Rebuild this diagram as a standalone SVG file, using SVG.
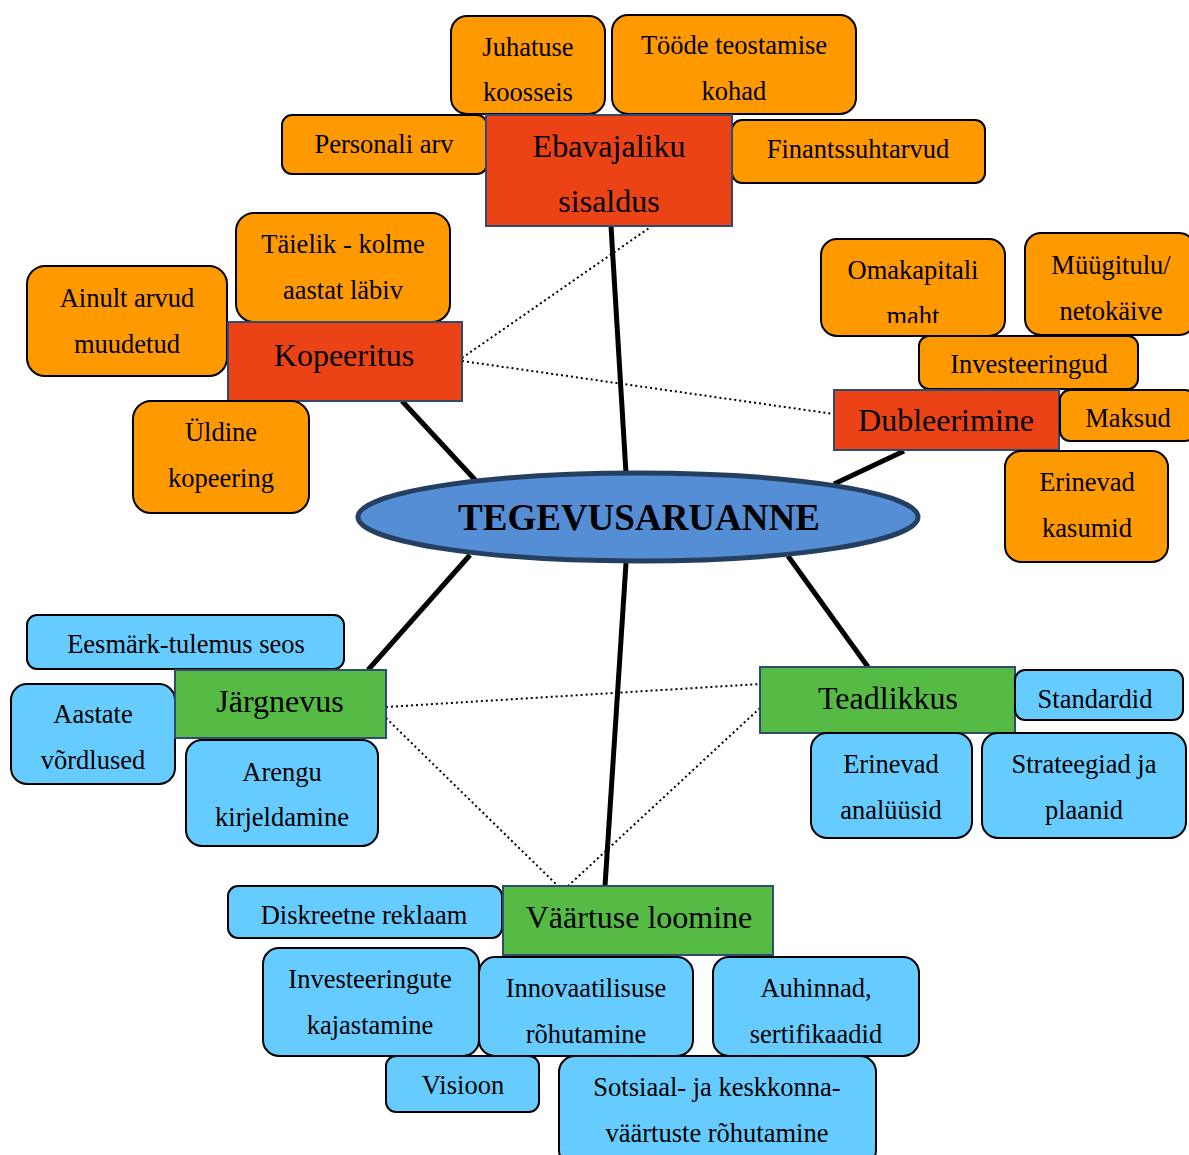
<svg xmlns="http://www.w3.org/2000/svg" width="1189" height="1155" viewBox="0 0 1189 1155">
  <style>
    text { font-family: "Liberation Serif", "Times New Roman", serif; fill: #000; text-anchor: middle; }
    .t { font-size: 26.5px; }
    .m { font-size: 32px; }
    .c { font-size: 37px; font-weight: bold; }
    .o { fill: #FF9900; stroke: #000; stroke-width: 2; }
    .b { fill: #66CCFF; stroke: #000; stroke-width: 2; }
    .r { fill: #EB4316; stroke: #2F4B6E; stroke-width: 2; }
    .g { fill: #55BB45; stroke: #2F4B6E; stroke-width: 2; }
    .solid { stroke: #000; stroke-width: 5; fill: none; }
    .dot { stroke: #000; stroke-width: 2; stroke-dasharray: 2 3; fill: none; }
  </style>
  <defs>
    <clipPath id="clipMaht"><rect x="821" y="239" width="184" height="84"/></clipPath>
  </defs>
  <rect width="1189" height="1155" fill="#fff"/>

  <!-- connectors -->
  <g id="connectors">
    <line class="dot" x1="462" y1="358" x2="652" y2="226"/>
    <line class="dot" x1="462" y1="361" x2="834" y2="414"/>
    <line class="dot" x1="386" y1="707" x2="760" y2="684"/>
    <line class="dot" x1="386" y1="718" x2="558" y2="886"/>
    <line class="dot" x1="760" y1="708" x2="568" y2="886"/>
    <line class="solid" x1="611" y1="226" x2="626" y2="473"/>
    <line class="solid" x1="402" y1="401" x2="478" y2="483"/>
    <line class="solid" x1="904" y1="451" x2="834" y2="484"/>
    <line class="solid" x1="368" y1="670" x2="470" y2="555"/>
    <line class="solid" x1="868" y1="667" x2="788" y2="556"/>
    <line class="solid" x1="605" y1="886" x2="626" y2="563"/>
  </g>

  <!-- central node -->
  <g id="tegevusaruanne">
    <ellipse cx="638" cy="517" rx="280" ry="44" fill="#558ED5" stroke="#243F60" stroke-width="5"/>
    <text class="c" x="639" y="530">TEGEVUSARUANNE</text>
  </g>

  <!-- Ebavajaliku sisaldus branch -->
  <g id="juhatuse-koosseis">
    <rect class="o" x="451" y="16" width="154" height="98" rx="16"/>
    <text class="t" x="528" y="56">Juhatuse</text>
    <text class="t" x="528" y="101">koosseis</text>
  </g>
  <g id="toode-teostamise-kohad">
    <rect class="o" x="612" y="15" width="244" height="99" rx="16"/>
    <text class="t" x="734" y="54">Tööde teostamise</text>
    <text class="t" x="734" y="100">kohad</text>
  </g>
  <g id="personali-arv">
    <rect class="o" x="282" y="115" width="205" height="59" rx="10"/>
    <text class="t" x="384" y="153">Personali arv</text>
  </g>
  <g id="finantssuhtarvud">
    <rect class="o" x="732" y="120" width="253" height="63" rx="10"/>
    <text class="t" x="858" y="158">Finantssuhtarvud</text>
  </g>
  <g id="ebavajaliku-sisaldus">
    <rect class="r" x="486" y="115" width="246" height="111"/>
    <text class="m" x="609" y="157">Ebavajaliku</text>
    <text class="m" x="609" y="212">sisaldus</text>
  </g>

  <!-- Kopeeritus branch -->
  <g id="taielik">
    <rect class="o" x="236" y="213" width="214" height="109" rx="18"/>
    <text class="t" x="343" y="253">Täielik - kolme</text>
    <text class="t" x="343" y="299">aastat läbiv</text>
  </g>
  <g id="ainult-arvud">
    <rect class="o" x="27" y="266" width="200" height="110" rx="18"/>
    <text class="t" x="127" y="307">Ainult arvud</text>
    <text class="t" x="127" y="353">muudetud</text>
  </g>
  <g id="kopeeritus">
    <rect class="r" x="228" y="322" width="234" height="79"/>
    <text class="m" x="344" y="366">Kopeeritus</text>
  </g>
  <g id="uldine-kopeering">
    <rect class="o" x="133" y="401" width="176" height="112" rx="18"/>
    <text class="t" x="221" y="441">Üldine</text>
    <text class="t" x="221" y="487">kopeering</text>
  </g>

  <!-- Dubleerimine branch -->
  <g id="omakapitali-maht">
    <rect class="o" x="821" y="239" width="184" height="97" rx="16"/>
    <text class="t" x="913" y="279">Omakapitali</text>
    <text class="t" x="913" y="325" clip-path="url(#clipMaht)">maht</text>
  </g>
  <g id="muugitulu">
    <rect class="o" x="1025" y="233" width="170" height="102" rx="16"/>
    <text class="t" x="1111" y="274">Müügitulu/</text>
    <text class="t" x="1111" y="320">netokäive</text>
  </g>
  <g id="investeeringud">
    <rect class="o" x="919" y="336" width="219" height="53" rx="10"/>
    <text class="t" x="1029" y="373">Investeeringud</text>
  </g>
  <g id="dubleerimine">
    <rect class="r" x="834" y="390" width="225" height="60"/>
    <text class="m" x="946" y="431">Dubleerimine</text>
  </g>
  <g id="maksud">
    <rect class="o" x="1060" y="390" width="135" height="51" rx="10"/>
    <text class="t" x="1128" y="427">Maksud</text>
  </g>
  <g id="erinevad-kasumid">
    <rect class="o" x="1005" y="451" width="163" height="111" rx="16"/>
    <text class="t" x="1087" y="491">Erinevad</text>
    <text class="t" x="1087" y="537">kasumid</text>
  </g>

  <!-- Järgnevus branch -->
  <g id="eesmark-tulemus">
    <rect class="b" x="27" y="615" width="317" height="54" rx="10"/>
    <text class="t" x="186" y="653">Eesmärk-tulemus seos</text>
  </g>
  <g id="aastate-vordlused">
    <rect class="b" x="11" y="684" width="164" height="100" rx="16"/>
    <text class="t" x="93" y="723">Aastate</text>
    <text class="t" x="93" y="769">võrdlused</text>
  </g>
  <g id="jargnevus">
    <rect class="g" x="175" y="670" width="211" height="68"/>
    <text class="m" x="280" y="712">Järgnevus</text>
  </g>
  <g id="arengu-kirjeldamine">
    <rect class="b" x="186" y="740" width="192" height="106" rx="16"/>
    <text class="t" x="282" y="781">Arengu</text>
    <text class="t" x="282" y="826">kirjeldamine</text>
  </g>

  <!-- Teadlikkus branch -->
  <g id="teadlikkus">
    <rect class="g" x="760" y="667" width="255" height="66"/>
    <text class="m" x="888" y="709">Teadlikkus</text>
  </g>
  <g id="standardid">
    <rect class="b" x="1015" y="670" width="168" height="50" rx="10"/>
    <text class="t" x="1095" y="708">Standardid</text>
  </g>
  <g id="erinevad-analuusid">
    <rect class="b" x="811" y="733" width="161" height="105" rx="16"/>
    <text class="t" x="891" y="773">Erinevad</text>
    <text class="t" x="891" y="819">analüüsid</text>
  </g>
  <g id="strateegiad">
    <rect class="b" x="982" y="733" width="204" height="105" rx="16"/>
    <text class="t" x="1084" y="773">Strateegiad ja</text>
    <text class="t" x="1084" y="819">plaanid</text>
  </g>

  <!-- Väärtuse loomine branch -->
  <g id="diskreetne-reklaam">
    <rect class="b" x="228" y="886" width="274" height="52" rx="10"/>
    <text class="t" x="364" y="924">Diskreetne reklaam</text>
  </g>
  <g id="vaartuse-loomine">
    <rect class="g" x="503" y="886" width="270" height="69"/>
    <text class="m" x="639" y="928">Väärtuse loomine</text>
  </g>
  <g id="investeeringute-kajastamine">
    <rect class="b" x="263" y="948" width="216" height="108" rx="16"/>
    <text class="t" x="370" y="988">Investeeringute</text>
    <text class="t" x="370" y="1034">kajastamine</text>
  </g>
  <g id="innovaatilisus">
    <rect class="b" x="479" y="957" width="214" height="99" rx="16"/>
    <text class="t" x="586" y="997">Innovaatilisuse</text>
    <text class="t" x="586" y="1043">rõhutamine</text>
  </g>
  <g id="auhinnad">
    <rect class="b" x="713" y="957" width="206" height="99" rx="16"/>
    <text class="t" x="816" y="997">Auhinnad,</text>
    <text class="t" x="816" y="1043">sertifikaadid</text>
  </g>
  <g id="visioon">
    <rect class="b" x="386" y="1056" width="153" height="56" rx="10"/>
    <text class="t" x="463" y="1094">Visioon</text>
  </g>
  <g id="sotsiaal-keskkonna">
    <rect class="b" x="559" y="1056" width="317" height="110" rx="16"/>
    <text class="t" x="717" y="1096">Sotsiaal- ja keskkonna-</text>
    <text class="t" x="717" y="1142">väärtuste rõhutamine</text>
  </g>
</svg>
